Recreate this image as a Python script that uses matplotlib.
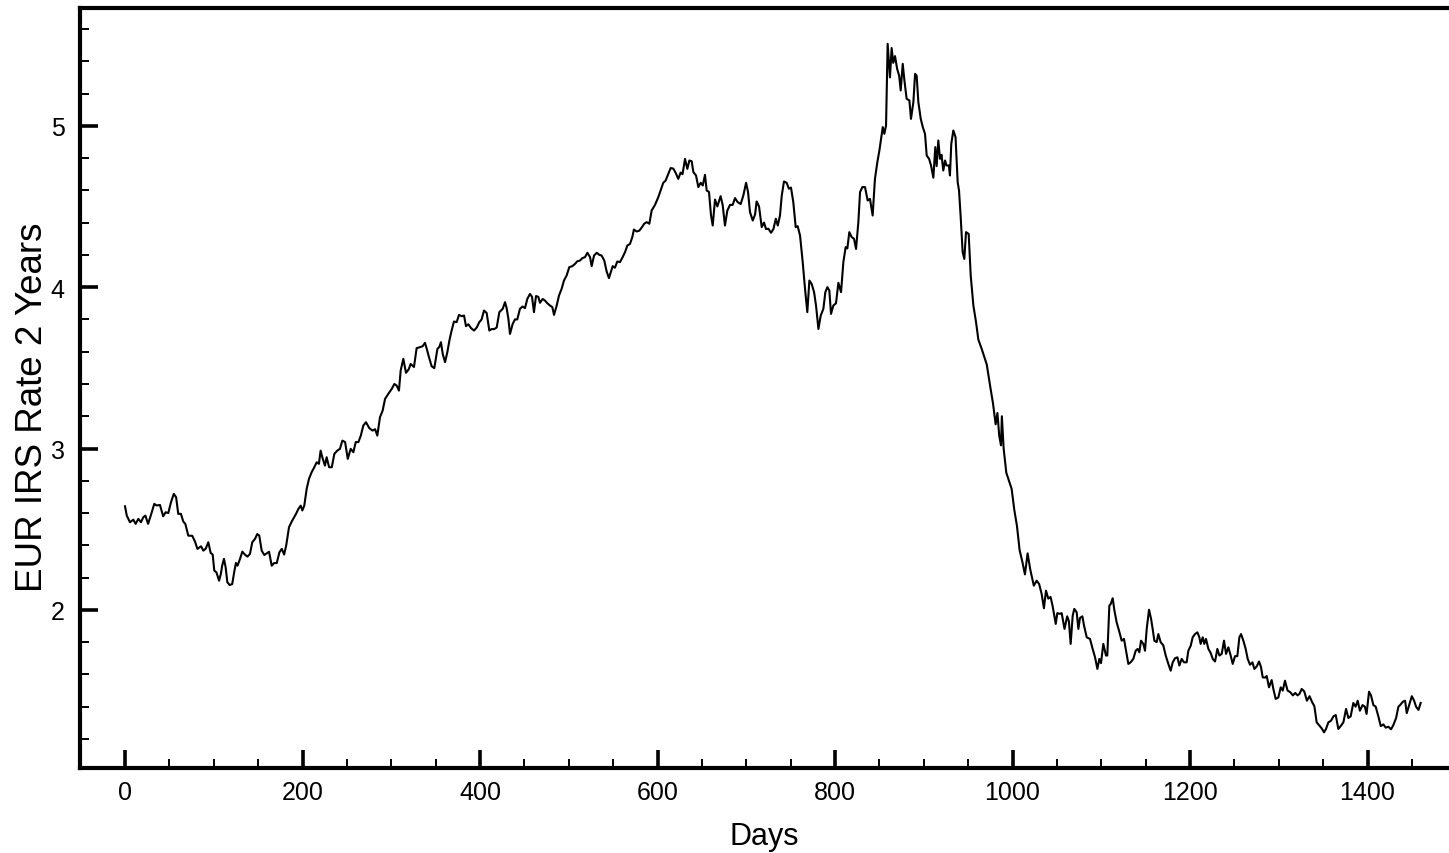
import matplotlib
matplotlib.use("Agg")
import matplotlib.pyplot as plt
from matplotlib.ticker import MultipleLocator

plt.rcParams['font.family'] = ['Liberation Sans', 'DejaVu Sans']

days = [
    0, 2, 5.6, 9.4, 12, 15, 18, 20.6, 23, 26,
    29, 33, 35.6, 39.4, 43, 45.8, 48.8, 51.8, 55, 57.6,
    60, 63, 65.7, 68, 71.3, 75.8, 78.9, 81.6, 85.7, 88.3,
    91, 93.9, 96.5, 98.8, 100.6, 103, 106, 108, 109.5, 111.5,
    113.4, 115.3, 118, 120.8, 123, 125, 126.8, 129.6, 132.2, 135,
    138, 140.8, 143.4, 146.5, 149, 151.3, 154, 157, 159.6, 162.3,
    165.3, 168, 171, 174, 176.7, 179.3, 181.6, 184.8, 187.8, 190.5,
    192.7, 195.3, 198, 199.8, 202, 204.7, 207.3, 210.3, 213.3, 216,
    218.5, 220.4, 222.3, 225.3, 227.2, 230, 233, 235.9, 239.2, 242.2,
    244.9, 248, 251, 254.3, 257.3, 260, 263, 265.7, 268.5, 271.5,
    275.3, 279, 281.8, 284.3, 287.3, 290.3, 293, 296.6, 300.5, 303.5,
    306.1, 308.7, 310.6, 313.6, 316.6, 319.6, 321.9, 325.6, 328.6, 332.4,
    335.4, 338, 339.9, 342.5, 345.5, 348.5, 352, 354.2, 356, 358,
    360.6, 363.2, 365.5, 368, 370.7, 373.7, 376.3, 379.3, 382, 384.2,
    386.9, 389.9, 393.3, 396.3, 399.2, 401.8, 404.5, 407.5, 410.5, 413,
    416, 418.8, 421.8, 425.6, 428.2, 430, 432, 433.8, 436.8, 439.4,
    442, 445, 448, 450.7, 453.3, 456.3, 458.6, 460.8, 463.1, 465.7,
    467.6, 470.6, 473.2, 475.9, 478.9, 481.5, 483.4, 486.4, 489, 492,
    494.6, 497.6, 500.6, 504, 507, 509.6, 512.7, 515.3, 518.3, 521,
    524, 525.8, 528.5, 531.5, 534.5, 537, 540, 542.7, 545.3, 549.5,
    552, 554.7, 557.7, 560.7, 563.4, 566, 569, 571.6, 573.4, 576.5,
    579.5, 582.5, 585, 587.8, 590.8, 593.4, 597.2, 600.9, 603.5, 606.5,
    609.1, 612.2, 614.8, 617.7, 620.4, 623.4, 626, 628.2, 631, 633.6,
    635.9, 638.5, 640.4, 643.4, 646, 648.7, 651, 653.5, 655.4, 658,
    660.3, 662.2, 664.8, 667.4, 671.1, 673.4, 676, 678.7, 681.7, 684.7,
    687.3, 690.3, 693.7, 696.7, 699.8, 702, 704.2, 707.3, 709.9, 711.7,
    714.4, 717.4, 720, 722.3, 725, 727.9, 730.6, 733.3, 735.5, 738,
    740, 742.5, 745.5, 748, 750.4, 753, 755.7, 757.9, 760.6, 763.6,
    766.2, 768.8, 771.1, 773.7, 776.4, 778.6, 781.3, 783.9, 786.9, 789.1,
    791.4, 793.6, 795.5, 798.1, 801.1, 803.8, 806.8, 809.4, 812, 813.9,
    816.1, 818.8, 821.4, 823.7, 826.3, 828.2, 830.8, 833.8, 836.8, 839.4,
    842.4, 845, 847.7, 850, 851.9, 853.8, 855.6, 857.5, 859.3, 861.9,
    863.8, 865.6, 867.6, 870, 872.3, 874, 876.3, 878.2, 880.7, 883.8,
    885.6, 888.3, 890.2, 892, 893.9, 896.6, 898.9, 901.4, 903.3, 906,
    908.2, 910.8, 913, 914.5, 916.4, 918.3, 920, 922, 924, 925.6,
    928.3, 929.5, 931, 933.3, 935.8, 938.2, 939.7, 941.5, 943.8, 945.7,
    947.6, 950.6, 952.9, 955.9, 958.9, 961.5, 965.3, 971, 975, 978,
    981, 983, 985, 987, 988, 990, 993, 996, 999, 1002,
    1005, 1008, 1011, 1014, 1017, 1020, 1024, 1027.2, 1030, 1032.8,
    1035.4, 1037.7, 1040.3, 1042.9, 1045.1, 1048.7, 1050.5, 1053.5, 1055.4, 1058.6,
    1061.6, 1063.5, 1065.5, 1067.8, 1069.6, 1072.3, 1074.2, 1076, 1078.7, 1080.6,
    1083.6, 1087.3, 1090.3, 1093, 1095.6, 1097.8, 1099.7, 1102.3, 1105.3, 1106.8,
    1109.1, 1110.6, 1112.9, 1114.7, 1117.3, 1120, 1123, 1125.6, 1127.9, 1130.5,
    1133.1, 1136.1, 1138.8, 1141, 1142.9, 1144.8, 1147.4, 1149.3, 1151.2, 1153.8,
    1156.1, 1157.9, 1159.8, 1162.4, 1164.3, 1166.9, 1169.9, 1172.6, 1175.6, 1178.2,
    1180.5, 1183.1, 1185.8, 1188, 1190.6, 1193.2, 1196.2, 1198.1, 1200.8, 1203,
    1205.6, 1208.3, 1210.5, 1212, 1214.3, 1216.1, 1218, 1220.7, 1223.3, 1225.6,
    1228.2, 1230.8, 1233.1, 1235.7, 1238.3, 1240.6, 1243.2, 1245.8, 1248.1, 1250.7,
    1253.3, 1255.6, 1257.5, 1260.1, 1262.7, 1265, 1267.6, 1270.3, 1272.5, 1275.2,
    1277.8, 1280, 1281.9, 1284.5, 1286.4, 1289, 1292, 1293.9, 1296.5, 1299.5,
    1302.2, 1304.5, 1307, 1309.9, 1312.9, 1315.9, 1318.5, 1321.2, 1323.4, 1325.8,
    1328.7, 1331.7, 1334.7, 1337.4, 1340.1, 1342.7, 1345.7, 1348.3, 1351, 1353.2,
    1355.9, 1358.9, 1361.6, 1364.2, 1367.1, 1369.8, 1372.8, 1375.8, 1378.4, 1381,
    1384, 1386.6, 1388.9, 1391.4, 1394.4, 1397, 1398.9, 1401.7, 1403.9, 1406.6,
    1409.2, 1412.2, 1414.9, 1417.9, 1420.5, 1423.5, 1426.5, 1429.2, 1432.2, 1434.8,
    1436.7, 1439.7, 1442.3, 1444.2, 1446.9, 1449.9, 1452.5, 1454.7, 1457.4, 1459.9,
]

rate = [
    2.642, 2.584, 2.543, 2.559, 2.533, 2.564, 2.543, 2.574, 2.584, 2.533,
    2.584, 2.657, 2.647, 2.650, 2.580, 2.605, 2.600, 2.667, 2.719, 2.698,
    2.595, 2.595, 2.547, 2.533, 2.460, 2.459, 2.423, 2.378, 2.394, 2.367,
    2.380, 2.419, 2.353, 2.343, 2.243, 2.233, 2.181, 2.223, 2.274, 2.316,
    2.264, 2.171, 2.154, 2.160, 2.233, 2.291, 2.274, 2.316, 2.361, 2.343,
    2.330, 2.347, 2.419, 2.440, 2.470, 2.460, 2.367, 2.340, 2.350, 2.360,
    2.274, 2.290, 2.290, 2.357, 2.378, 2.343, 2.398, 2.512, 2.547, 2.574,
    2.595, 2.625, 2.646, 2.616, 2.646, 2.750, 2.812, 2.853, 2.884, 2.915,
    2.905, 2.987, 2.946, 2.894, 2.946, 2.884, 2.884, 2.967, 2.987, 2.998,
    3.049, 3.040, 2.936, 2.998, 2.977, 3.040, 3.040, 3.080, 3.142, 3.163,
    3.126, 3.111, 3.120, 3.080, 3.194, 3.235, 3.307, 3.338, 3.369, 3.400,
    3.390, 3.359, 3.483, 3.556, 3.469, 3.490, 3.524, 3.505, 3.622, 3.628,
    3.634, 3.655, 3.620, 3.566, 3.510, 3.498, 3.617, 3.630, 3.659, 3.586,
    3.535, 3.597, 3.669, 3.731, 3.787, 3.783, 3.828, 3.820, 3.824, 3.758,
    3.770, 3.746, 3.731, 3.750, 3.783, 3.800, 3.855, 3.840, 3.731, 3.740,
    3.740, 3.750, 3.845, 3.866, 3.907, 3.870, 3.803, 3.710, 3.772, 3.800,
    3.800, 3.866, 3.880, 3.870, 3.927, 3.958, 3.940, 3.845, 3.945, 3.940,
    3.903, 3.927, 3.917, 3.900, 3.886, 3.876, 3.828, 3.886, 3.948, 3.990,
    4.041, 4.072, 4.124, 4.130, 4.144, 4.160, 4.165, 4.180, 4.186, 4.213,
    4.186, 4.130, 4.196, 4.213, 4.200, 4.196, 4.165, 4.097, 4.056, 4.130,
    4.120, 4.159, 4.155, 4.186, 4.217, 4.258, 4.268, 4.310, 4.357, 4.345,
    4.350, 4.372, 4.393, 4.403, 4.393, 4.475, 4.510, 4.558, 4.599, 4.647,
    4.660, 4.702, 4.738, 4.735, 4.709, 4.671, 4.710, 4.700, 4.795, 4.733,
    4.785, 4.780, 4.713, 4.692, 4.620, 4.647, 4.630, 4.696, 4.599, 4.590,
    4.444, 4.382, 4.543, 4.500, 4.564, 4.510, 4.382, 4.475, 4.510, 4.510,
    4.552, 4.527, 4.515, 4.568, 4.647, 4.590, 4.465, 4.413, 4.450, 4.531,
    4.500, 4.372, 4.400, 4.360, 4.362, 4.337, 4.360, 4.424, 4.382, 4.444,
    4.568, 4.655, 4.647, 4.610, 4.617, 4.527, 4.372, 4.378, 4.320, 4.155,
    3.990, 3.845, 4.041, 4.020, 3.969, 3.886, 3.741, 3.824, 3.866, 3.969,
    4.000, 3.979, 3.834, 3.886, 3.900, 4.027, 3.969, 4.155, 4.248, 4.240,
    4.341, 4.310, 4.300, 4.237, 4.403, 4.589, 4.620, 4.620, 4.537, 4.547,
    4.444, 4.671, 4.775, 4.847, 4.919, 4.992, 4.950, 5.002, 5.508, 5.300,
    5.482, 5.390, 5.432, 5.353, 5.310, 5.219, 5.384, 5.281, 5.167, 5.157,
    5.043, 5.147, 5.322, 5.310, 5.147, 5.043, 4.992, 4.950, 4.816, 4.795,
    4.754, 4.678, 4.868, 4.750, 4.909, 4.795, 4.820, 4.723, 4.785, 4.754,
    4.754, 4.692, 4.888, 4.971, 4.930, 4.651, 4.600, 4.444, 4.217, 4.175,
    4.341, 4.330, 4.072, 3.886, 3.783, 3.675, 3.617, 3.520, 3.380, 3.280,
    3.150, 3.220, 3.080, 3.020, 3.200, 3.000, 2.850, 2.800, 2.750, 2.620,
    2.520, 2.370, 2.300, 2.220, 2.350, 2.250, 2.150, 2.181, 2.160, 2.099,
    2.010, 2.119, 2.070, 2.080, 2.026, 1.913, 1.980, 1.975, 1.980, 1.882,
    1.960, 1.930, 1.789, 1.964, 2.006, 1.985, 1.882, 1.950, 1.960, 1.902,
    1.830, 1.820, 1.758, 1.706, 1.634, 1.696, 1.670, 1.789, 1.717, 1.717,
    2.026, 2.036, 2.072, 2.000, 1.923, 1.871, 1.809, 1.820, 1.747, 1.665,
    1.675, 1.696, 1.747, 1.758, 1.737, 1.809, 1.789, 1.747, 1.882, 2.001,
    1.945, 1.882, 1.809, 1.800, 1.850, 1.800, 1.780, 1.717, 1.665, 1.623,
    1.675, 1.700, 1.706, 1.655, 1.696, 1.675, 1.675, 1.747, 1.778, 1.830,
    1.850, 1.861, 1.830, 1.789, 1.830, 1.789, 1.820, 1.758, 1.733, 1.696,
    1.680, 1.758, 1.717, 1.727, 1.809, 1.727, 1.768, 1.717, 1.665, 1.713,
    1.713, 1.830, 1.850, 1.809, 1.758, 1.696, 1.660, 1.675, 1.634, 1.650,
    1.680, 1.645, 1.582, 1.580, 1.590, 1.520, 1.565, 1.510, 1.448, 1.457,
    1.520, 1.500, 1.561, 1.500, 1.490, 1.470, 1.485, 1.470, 1.480, 1.510,
    1.495, 1.437, 1.465, 1.430, 1.403, 1.303, 1.283, 1.266, 1.241, 1.262,
    1.303, 1.313, 1.340, 1.348, 1.262, 1.280, 1.303, 1.386, 1.330, 1.340,
    1.423, 1.400, 1.437, 1.375, 1.410, 1.400, 1.355, 1.493, 1.470, 1.410,
    1.400, 1.340, 1.280, 1.290, 1.270, 1.276, 1.260, 1.287, 1.330, 1.400,
    1.410, 1.430, 1.437, 1.360, 1.410, 1.465, 1.437, 1.400, 1.380, 1.423,
]

x_ticks = [0, 200, 400, 600, 800, 1000, 1200, 1400]
y_ticks = [2, 3, 4, 5]
x_label = "Days"
y_label = "EUR IRS Rate 2 Years"

fig = plt.figure(figsize=(14.49, 8.54), dpi=100)
ax = fig.add_axes([80 / 1449, 1 - 769 / 854, 1 - 80 / 1449, (769 - 9) / 854])

ax.plot(days, rate, color="black", linewidth=1.5)

ax.set_xlim(-50.7, 1491.8)
ax.set_ylim(1.02, 5.73)

ax.set_xticks(x_ticks)
ax.set_yticks(y_ticks)
ax.xaxis.set_minor_locator(MultipleLocator(50))
ax.yaxis.set_minor_locator(MultipleLocator(0.2))

ax.tick_params(which="major", direction="in", length=13, width=2.6,
               labelsize=18, colors="black")
ax.tick_params(axis="x", which="major", pad=9)
ax.tick_params(axis="y", which="major", pad=11)
ax.tick_params(which="minor", direction="in", length=6.2, width=1.4)

for side in ["left", "bottom", "top"]:
    ax.spines[side].set_linewidth(3.0)
ax.spines["right"].set_visible(False)

ax.set_xlabel(x_label, fontsize=22, labelpad=12)
ax.set_ylabel(y_label, fontsize=26.5)
ax.yaxis.set_label_coords(-0.0222, 0.476)

fig.savefig("out.png", dpi=100)
